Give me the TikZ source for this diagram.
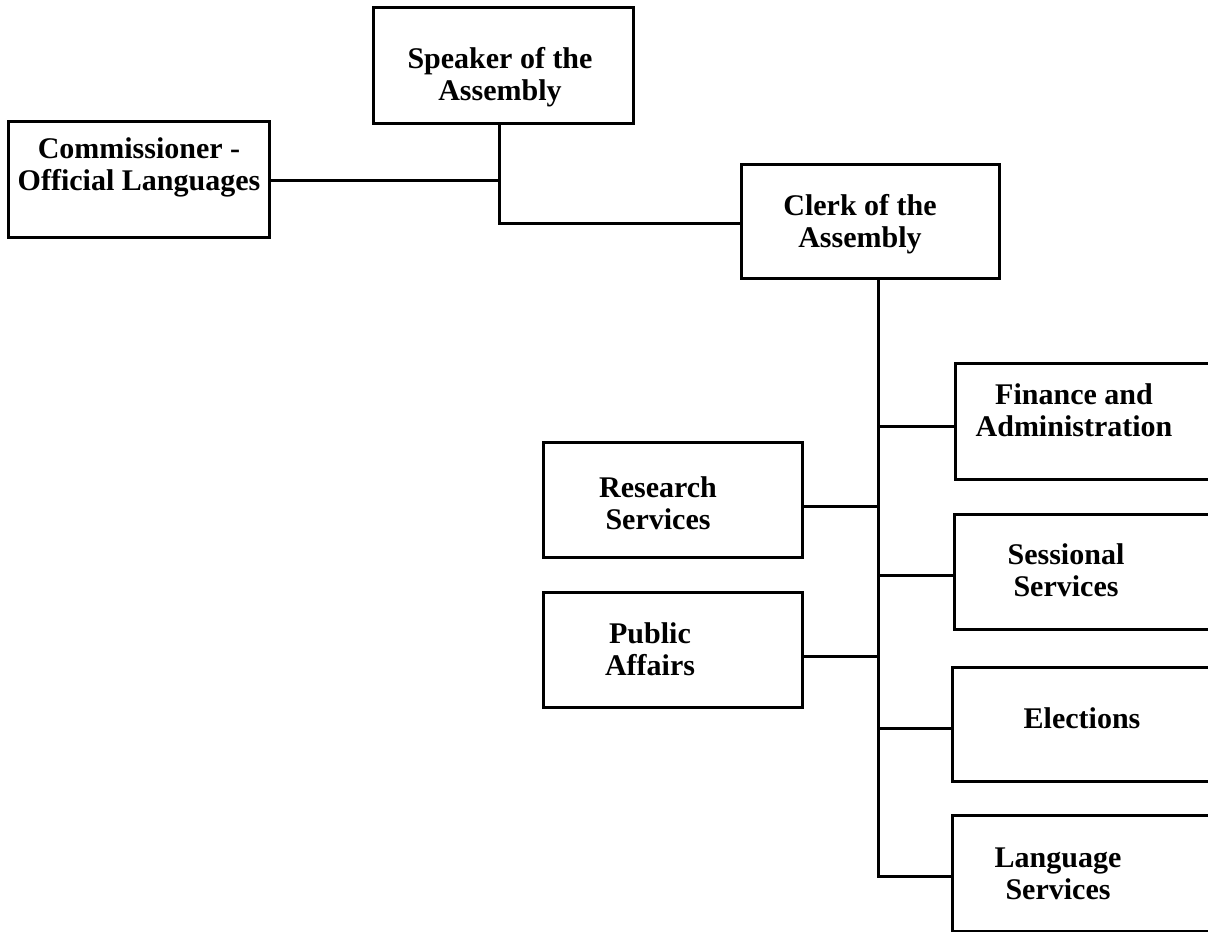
\documentclass[tikz,border=0pt]{standalone}
\usepackage{fontspec}
\setmainfont{Liberation Serif}
\begin{document}
\begin{tikzpicture}[x=1pt,y=-1pt,
  box/.style={draw=black, line width=3pt, rectangle, inner sep=0pt,
    minimum width=#1},
  box/.default=260pt,
  lbl/.style={anchor=base, inner sep=0pt,
    font=\fontsize{30}{32}\selectfont\bfseries},
  wire/.style={draw=black, line width=3pt, line join=miter}]
\useasboundingbox (0,0) rectangle (1208,932);
\fill[white] (0,0) rectangle (1208,932);
\clip (0,0) rectangle (1208,932);

% boxes
\node[box=260pt, minimum height=116pt] (speaker) at (503,65) {};
\node[box=261pt, minimum height=116pt] (comm) at (138.5,179) {};
\node[box=258pt, minimum height=114pt] (clerk) at (870,221) {};
\node[box=285pt, minimum height=116pt] (finance) at (1097.5,421) {};
\node[box=259pt, minimum height=115pt] (research) at (672.5,499.5) {};
\node[box=259pt, minimum height=115pt] (public) at (672.5,649.5) {};
\node[box=286pt, minimum height=115pt] (sessional) at (1097,571.5) {};
\node[box=288pt, minimum height=114pt] (elections) at (1096,724) {};
\node[box=288pt, minimum height=116pt] (language) at (1096,873) {};

% labels
\newcommand{\twolines}[2]{\begin{tabular}[t]{@{}c@{}}#1\\#2\end{tabular}}
\node[lbl] (speaker-t) at (500,68) {\twolines{Speaker of the}{Assembly}};
\node[lbl] (comm-t) at (139,158) {\twolines{Commissioner -}{Official Languages}};
\node[lbl] (clerk-t) at (860,215) {\twolines{Clerk of the}{Assembly}};
\node[lbl] (finance-t) at (1074,404) {\twolines{Finance and}{Administration}};
\node[lbl] (research-t) at (658,497) {\twolines{Research}{Services}};
\node[lbl] (public-t) at (650,643) {\twolines{Public}{Affairs}};
\node[lbl] (sessional-t) at (1066,564) {\twolines{Sessional}{Services}};
\node[lbl] (elections-t) at (1082,728) {Elections};
\node[lbl] (language-t) at (1058,867) {\twolines{Language}{Services}};

% junction points
\coordinate (spk-foot) at (499,123);
\coordinate (comm-j) at (499,180);
\coordinate (clerk-j) at (499,223);
\coordinate (trunk-top) at (878,278);
\coordinate (b-fin) at (878,426);
\coordinate (b-res) at (878,506);
\coordinate (b-ses) at (878,575);
\coordinate (b-pub) at (878,656);
\coordinate (b-ele) at (878,728);
\coordinate (b-lan) at (878,876);

% connectors
\draw[wire] (comm.east |- comm-j) -- (comm-j);
\draw[wire] (spk-foot) -- (clerk-j) -- (clerk-j -| clerk.west);
\draw[wire] (trunk-top) -- (b-lan) -- (b-lan -| language.west);
\draw[wire] (b-fin) -- (b-fin -| finance.west);
\draw[wire] (b-res) -- (b-res -| research.east);
\draw[wire] (b-ses) -- (b-ses -| sessional.west);
\draw[wire] (b-pub) -- (b-pub -| public.east);
\draw[wire] (b-ele) -- (b-ele -| elections.west);
\end{tikzpicture}
\end{document}
